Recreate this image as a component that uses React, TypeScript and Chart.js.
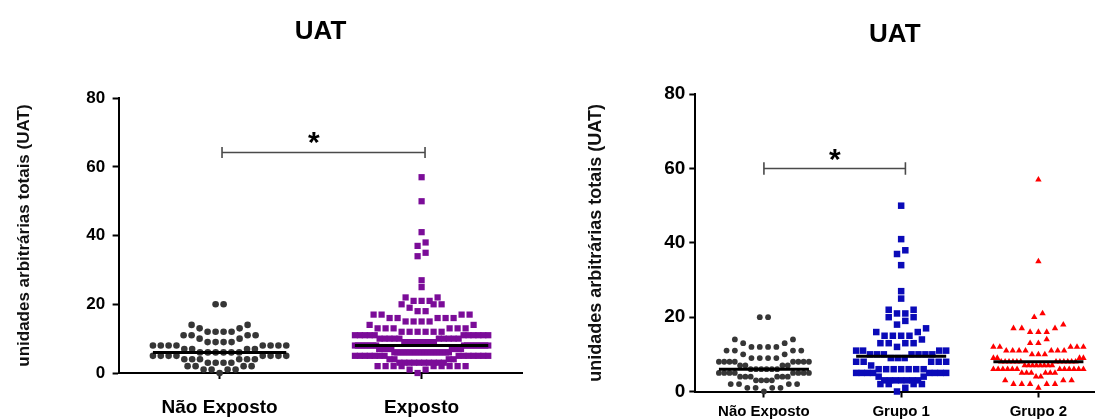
import React, { useEffect, useRef } from 'react';
import { Chart, registerables } from 'chart.js';

Chart.register(...registerables);

const FONT = "'Liberation Sans', Arial, Helvetica, sans-serif";

const chartTitle = 'UAT';
const yAxisTitle = 'unidades arbitrárias totais (UAT)';
const yTickValues = [0, 20, 40, 60, 80];

const leftCategories = ['Não Exposto', 'Exposto'];
const rightCategories = ['Não Exposto', 'Grupo 1', 'Grupo 2'];

const naoExposto = [
  20, 20, 14, 14, 13, 13, 12, 12, 12, 12, 11, 11, 11, 11, 10, 10, 9, 9, 9, 9,
  8, 8, 8, 8, 8, 8, 8, 8, 7, 7, 7, 7, 6, 6, 6, 6, 6, 6,
  5, 5, 5, 5, 5, 5, 5, 5, 4, 4, 4, 4, 4, 4, 3, 3, 3, 3,
  2, 2, 2, 2, 1, 1, 1, 1, 0,
];

const grupo1 = [
  50, 41, 38, 37, 34, 27, 25, 22, 22, 21, 21, 20, 20, 19, 18, 17, 16, 16,
  15, 15, 15, 15, 14, 13, 13, 13, 13, 12, 11, 11, 11, 11,
  10, 10, 10, 10, 10, 10, 10, 9, 9, 9, 8, 8, 8, 8, 8, 7,
  6, 6, 6, 6, 6, 6, 6, 5, 5, 5, 5, 5, 5, 5, 5, 4, 4,
  3, 3, 3, 3, 3, 3, 3, 2, 2, 2, 2, 1, 0,
];

const grupo2 = [
  57, 35, 21, 20, 18, 17, 17, 17, 16, 16, 16, 14, 13, 13,
  12, 12, 12, 12, 12, 11, 11, 11, 11, 11, 11, 11, 10, 10, 10, 9, 9, 9, 9,
  8, 8, 8, 8, 8, 8, 8, 8, 8, 8, 8, 8,
  7, 7, 7, 7, 7, 7, 7, 7,
  6, 6, 6, 6, 6, 6, 6, 6, 6, 6, 6, 6,
  5, 5, 5, 5, 5, 5, 4, 4, 3, 3, 3, 2, 2, 2, 2, 2, 1,
];

// Exposto = Grupo 1 + Grupo 2
const exposto = [...grupo1, ...grupo2];

type PointStyle = 'circle' | 'rect' | 'triangle';

interface SeriesSpec {
  values: number[];
  color: string;
  pointStyle: PointStyle;
  radius: number;
}

interface PlotSpec {
  width: number;
  categories: string[];
  series: SeriesSpec[];
  xMax: number;
  medianHalf: number;
  spacingPx: number;
  binWidth: number;
  padLeft: number;
  padRight: number;
  yWidth: number;
  xHeight: number;
  titlePadTop: number;
  titlePadBottom: number;
  titleSize: number;
  yTickSize: number;
  yTickPad: number;
  yTitleSize: number;
  xTickSize: number;
  xTickPad: number;
  sig: { x1: number; x2: number; y: number; capLo: number; capHi: number; starX: number; starY: number; starSize: number };
}

function median(values: number[]): number {
  const s = [...values].sort((a, b) => a - b);
  const n = s.length;
  return n % 2 ? s[(n - 1) / 2] : (s[n / 2 - 1] + s[n / 2]) / 2;
}

// Prism-like scatter dot plot: values are grouped in bins of close values; inside a bin the points
// are spread on a row from the centre outwards (lowest values in the middle), spacing compressed if crowded.
function dotPlotLayout(values: number[], xs: any, center: number, spacingPx: number, maxHalf: number, binWidth: number) {
  const cPx = xs.getPixelForValue(center);
  const unitPerPx = Math.abs(xs.getValueForPixel(cPx + 100) - center) / 100;
  const sMax = spacingPx * unitPerPx;
  const min = Math.min(...values);
  const bins = new Map<number, number[]>();
  values.forEach((v, i) => {
    const b = Math.floor((v - min) / binWidth + 1e-9);
    if (!bins.has(b)) bins.set(b, []);
    bins.get(b)!.push(i);
  });
  const res: { x: number; y: number }[] = new Array(values.length);
  bins.forEach((idx) => {
    idx.sort((a, b) => values[a] - values[b] || a - b);
    const n = idx.length;
    const s = n > 1 ? Math.min(sMax, (2 * maxHalf) / (n - 1)) : 0;
    idx.forEach((pi, k) => {
      let off: number;
      if (n % 2 === 1) {
        const m = Math.ceil(k / 2);
        off = (k % 2 === 1 ? -1 : 1) * m * s;
      } else {
        const m = Math.floor(k / 2) + 0.5;
        off = (k % 2 === 0 ? -1 : 1) * m * s;
      }
      res[pi] = { x: center + off, y: values[pi] };
    });
  });
  return res;
}

function buildChart(canvas: HTMLCanvasElement, spec: PlotSpec): Chart {
  const datasets: any[] = [];
  spec.series.forEach((s, i) => {
    datasets.push({
      data: s.values.map((v) => ({ x: i + 0.5, y: v })),
      pointStyle: s.pointStyle,
      pointRadius: s.radius,
      pointHoverRadius: s.radius,
      backgroundColor: s.color,
      borderColor: s.color,
      pointBorderWidth: 0,
      showLine: false,
      clip: false,
      order: 3,
    });
  });
  spec.series.forEach((s, i) => {
    const m = median(s.values);
    datasets.push({
      data: [
        { x: i + 0.5 - spec.medianHalf, y: m },
        { x: i + 0.5 + spec.medianHalf, y: m },
      ],
      showLine: true,
      borderColor: '#000',
      borderWidth: 3,
      pointRadius: 0,
      pointHoverRadius: 0,
      clip: false,
      order: 1,
    });
  });
  const g = spec.sig;
  datasets.push({
    data: [
      { x: g.x1, y: g.capLo },
      { x: g.x1, y: g.capHi },
      { x: g.x1, y: g.y },
      { x: g.x2, y: g.y },
      { x: g.x2, y: g.capHi },
      { x: g.x2, y: g.capLo },
    ],
    showLine: true,
    borderColor: '#4a4a4a',
    borderWidth: 1.6,
    pointRadius: 0,
    pointHoverRadius: 0,
    clip: false,
    order: 1,
  });

  const starPlugin = {
    id: 'sigStar',
    afterDatasetsDraw(chart: any) {
      const ctx = chart.ctx;
      const xs = chart.scales.x;
      const ys = chart.scales.y;
      const px = xs.getPixelForValue(g.starX);
      const py = ys.getPixelForValue(g.starY);
      ctx.save();
      ctx.font = `bold ${g.starSize}px ${FONT}`;
      ctx.fillStyle = '#000';
      ctx.textAlign = 'center';
      ctx.textBaseline = 'alphabetic';
      ctx.fillText('*', px, py + g.starSize * 0.56);
      ctx.restore();
    },
  };

  const chart = new Chart(canvas, {
    type: 'scatter',
    data: { datasets },
    plugins: [starPlugin],
    options: {
      responsive: false,
      animation: false,
      devicePixelRatio: 1,
      events: [],
      layout: { padding: { left: spec.padLeft, right: spec.padRight, top: 0, bottom: 0 } },
      plugins: {
        legend: { display: false },
        tooltip: { enabled: false },
        title: {
          display: true,
          text: chartTitle,
          fullSize: false,
          color: '#000',
          font: { family: FONT, size: spec.titleSize, weight: 'bold' },
          padding: { top: spec.titlePadTop, bottom: spec.titlePadBottom },
        },
      },
      scales: {
        x: {
          type: 'linear',
          min: 0,
          max: spec.xMax,
          afterBuildTicks: (scale: any) => {
            scale.ticks = spec.categories.map((_, i) => ({ value: i + 0.5 }));
          },
          afterFit: (scale: any) => {
            scale.height = spec.xHeight;
          },
          ticks: {
            autoSkip: false,
            maxRotation: 0,
            color: '#000',
            padding: spec.xTickPad,
            font: { family: FONT, size: spec.xTickSize, weight: 'bold' },
            callback: (_v: any, i: number) => spec.categories[i],
          },
          grid: { drawOnChartArea: false, drawTicks: true, tickLength: 6, tickWidth: 2, tickColor: '#000' },
          border: { display: true, color: '#000', width: 2 },
        },
        y: {
          type: 'linear',
          min: 0,
          max: 80,
          afterBuildTicks: (scale: any) => {
            scale.ticks = yTickValues.map((v) => ({ value: v }));
          },
          afterFit: (scale: any) => {
            scale.width = spec.yWidth;
          },
          ticks: {
            color: '#000',
            padding: spec.yTickPad,
            font: { family: FONT, size: spec.yTickSize, weight: 'bold' },
          },
          grid: { drawOnChartArea: false, drawTicks: true, tickLength: 6, tickWidth: 2, tickColor: '#000' },
          border: { display: true, color: '#000', width: 2 },
          title: {
            display: true,
            text: yAxisTitle,
            color: '#111',
            font: { family: FONT, size: spec.yTitleSize, weight: 'bold' },
            padding: { top: 5, bottom: 0 },
          },
        },
      },
    } as any,
  });

  const xs = chart.scales.x;
  spec.series.forEach((s, i) => {
    chart.data.datasets[i].data = dotPlotLayout(
      s.values, xs, i + 0.5, spec.spacingPx, spec.medianHalf, spec.binWidth,
    ) as any;
  });
  chart.update('none');
  return chart;
}

const leftSpec: PlotSpec = {
  width: 550,
  categories: leftCategories,
  series: [
    { values: naoExposto, color: '#363636', pointStyle: 'circle', radius: 3.3 },
    { values: exposto, color: '#7b0c98', pointStyle: 'rect', radius: 4.4 },
  ],
  xMax: 2,
  medianHalf: 0.33,
  spacingPx: 8,
  binWidth: 3,
  padLeft: 9,
  padRight: 27.4,
  yWidth: 109.6,
  xHeight: 46,
  titlePadTop: 16,
  titlePadBottom: 51,
  titleSize: 26,
  yTickSize: 17,
  yTickPad: 7.5,
  yTitleSize: 17,
  xTickSize: 19,
  xTickPad: 17,
  sig: { x1: 0.512, x2: 1.517, y: 64.2, capLo: 62.6, capHi: 65.8, starX: 0.967, starY: 69.2, starSize: 30 },
};

const rightSpec: PlotSpec = {
  width: 549,
  categories: rightCategories,
  series: [
    { values: naoExposto, color: '#363636', pointStyle: 'circle', radius: 2.9 },
    { values: grupo1, color: '#0a0ab8', pointStyle: 'rect', radius: 4.6 },
    { values: grupo2, color: '#ff0000', pointStyle: 'triangle', radius: 3.7 },
  ],
  xMax: 2.908,
  medianHalf: 0.328,
  spacingPx: 8.3,
  binWidth: 3,
  padLeft: 30,
  padRight: 0,
  yWidth: 115.3,
  xHeight: 27.5,
  titlePadTop: 19,
  titlePadBottom: 44,
  titleSize: 26,
  yTickSize: 19,
  yTickPad: 4,
  yTitleSize: 18,
  xTickSize: 15,
  xTickPad: 5.5,
  sig: { x1: 0.5, x2: 1.531, y: 60, capLo: 58.3, capHi: 61.7, starX: 1.017, starY: 64.4, starSize: 30 },
};

function DotPlot({ spec, left }: { spec: PlotSpec; left: number }) {
  const ref = useRef<HTMLCanvasElement | null>(null);
  useEffect(() => {
    if (!ref.current) return;
    const chart = buildChart(ref.current, spec);
    return () => chart.destroy();
  }, [spec]);
  return (
    <canvas
      ref={ref}
      width={spec.width}
      height={419}
      style={{ position: 'absolute', left, top: 0, width: spec.width, height: 419 }}
    />
  );
}

export default function App() {
  return (
    <div
      style={{
        position: 'fixed',
        left: 0,
        top: 0,
        width: 1099,
        height: 419,
        overflow: 'hidden',
        background: '#fff',
      }}
    >
      <DotPlot spec={leftSpec} left={0} />
      <DotPlot spec={rightSpec} left={550} />
    </div>
  );
}
